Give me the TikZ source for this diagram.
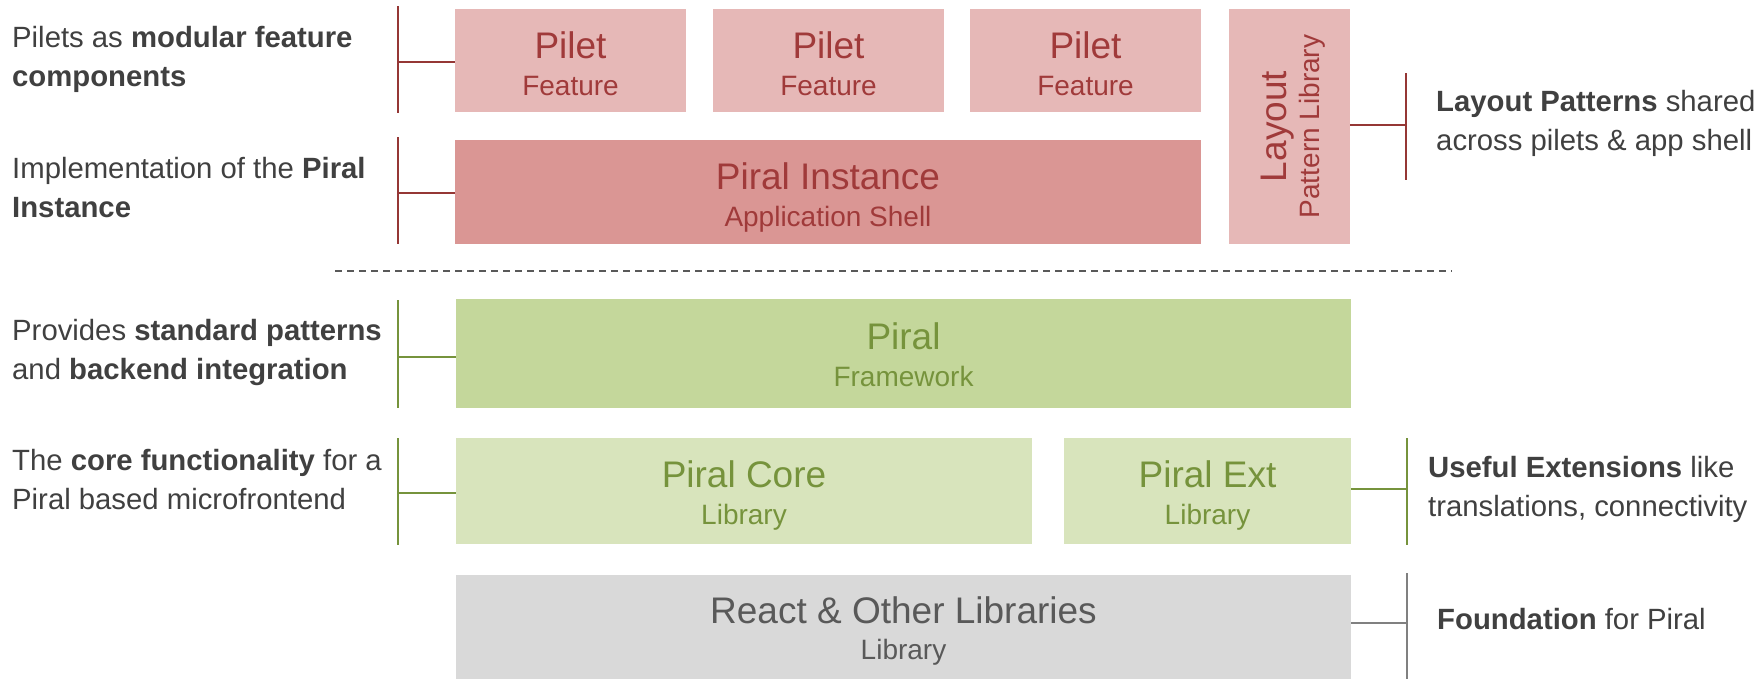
\documentclass[tikz,border=0pt]{standalone}
\usepackage{fontspec}
\setmainfont{Liberation Sans}
\usetikzlibrary{calc}
\definecolor{redline}{HTML}{953735}
\definecolor{redtext}{HTML}{A03A3A}
\definecolor{pilfill}{HTML}{E6B8B7}
\definecolor{instfill}{HTML}{DA9694}
\definecolor{grnline}{HTML}{76933C}
\definecolor{grntext}{HTML}{76933C}
\definecolor{fwfill}{HTML}{C4D79B}
\definecolor{libfill}{HTML}{D8E4BC}
\definecolor{gryfill}{HTML}{D9D9D9}
\definecolor{grytext}{HTML}{595959}
\definecolor{gryline}{HTML}{808080}
\definecolor{sidetext}{HTML}{404040}
\tikzset{
  box/.style={rectangle, draw=none, inner sep=0pt, outer sep=0pt},
  pilbox/.style={box, fill=pilfill},
  instbox/.style={box, fill=instfill},
  fwbox/.style={box, fill=fwfill},
  libbox/.style={box, fill=libfill},
  grybox/.style={box, fill=gryfill},
  ttl/.style={inner sep=0pt, anchor=base, font=\fontsize{37}{44}\selectfont},
  subttl/.style={inner sep=0pt, anchor=base, font=\fontsize{28}{34}\selectfont},
  side/.style={inner sep=0pt, anchor=base west, align=left, text=sidetext, font=\fontsize{29.3}{39}\selectfont},
  rline/.style={draw=redline, line width=2.2pt},
  gline/.style={draw=grnline, line width=2.2pt},
  kline/.style={draw=gryline, line width=2.2pt},
  sepline/.style={draw=grytext, line width=1.4pt, dash pattern=on 7pt off 5pt}
}
\begin{document}
\begin{tikzpicture}[x=1pt,y=-1pt]
\useasboundingbox (0,0) rectangle (1760,678);
\begin{scope}
\clip (0,0) rectangle (1760,678);
% ---- boxes ----
\node[pilbox, minimum width=231pt, minimum height=103pt] (p1) at (570.5,60.5) {};
\node[pilbox, minimum width=231pt, minimum height=103pt] (p2) at (828.5,60.5) {};
\node[pilbox, minimum width=231pt, minimum height=103pt] (p3) at (1085.5,60.5) {};
\node[pilbox, minimum width=121pt, minimum height=235pt] (lay) at (1289.5,126.5) {};
\node[instbox, minimum width=746pt, minimum height=104pt] (inst) at (828,192) {};
\node[fwbox, minimum width=895pt, minimum height=109pt] (fw) at (903.5,353.5) {};
\node[libbox, minimum width=576pt, minimum height=106pt] (core) at (744,491) {};
\node[libbox, minimum width=287pt, minimum height=106pt] (ext) at (1207.5,491) {};
\node[grybox, minimum width=895pt, minimum height=106pt] (react) at (903.5,628) {};
\end{scope}
% ---- titles ----
\node[ttl, text=redtext] (p1t) at (570.5,58) {Pilet};
\node[subttl, text=redtext] (p1s) at (570.5,95) {Feature};
\node[ttl, text=redtext] (p2t) at (828.5,58) {Pilet};
\node[subttl, text=redtext] (p2s) at (828.5,95) {Feature};
\node[ttl, text=redtext] (p3t) at (1085.5,58) {Pilet};
\node[subttl, text=redtext] (p3s) at (1085.5,95) {Feature};
\node[ttl, text=redtext, rotate=90] (layt) at (1286,126.5) {Layout};
\node[subttl, text=redtext, rotate=90] (lays) at (1319,126.5) {Pattern Library};
\node[ttl, text=redtext] (instt) at (828,189) {Piral Instance};
\node[subttl, text=redtext] (insts) at (828,226) {Application Shell};
\node[ttl, text=grntext] (fwt) at (903.5,349) {Piral};
\node[subttl, text=grntext] (fws) at (903.5,386) {Framework};
\node[ttl, text=grntext] (coret) at (744,487) {Piral Core};
\node[subttl, text=grntext] (cores) at (744,524) {Library};
\node[ttl, text=grntext] (extt) at (1207.5,487) {Piral Ext};
\node[subttl, text=grntext] (exts) at (1207.5,524) {Library};
\node[ttl, text=grytext] (reactt) at (903.5,623) {React \& Other Libraries};
\node[subttl, text=grytext] (reacts) at (903.5,659) {Library};
% ---- separator ----
\coordinate (sepa) at (335,271);
\coordinate (sepb) at (1452,271);
\draw[sepline] (sepa) -- (sepb);
% ---- left brackets ----
\coordinate (l1a) at (398,6);   \coordinate (l1b) at (398,113); \coordinate (l1m) at (398,62);
\coordinate (l2a) at (398,137); \coordinate (l2b) at (398,244); \coordinate (l2m) at (398,193);
\coordinate (l3a) at (398,300); \coordinate (l3b) at (398,408); \coordinate (l3m) at (398,357);
\coordinate (l4a) at (398,438); \coordinate (l4b) at (398,545); \coordinate (l4m) at (398,493);
\draw[rline] (l1a) -- (l1b);
\draw[rline] (l1m) -- (l1m -| p1.west);
\draw[rline] (l2a) -- (l2b);
\draw[rline] (l2m) -- (l2m -| inst.west);
\draw[gline] (l3a) -- (l3b);
\draw[gline] (l3m) -- (l3m -| fw.west);
\draw[gline] (l4a) -- (l4b);
\draw[gline] (l4m) -- (l4m -| core.west);
% ---- right brackets ----
\coordinate (r1a) at (1406,73);  \coordinate (r1b) at (1406,180); \coordinate (r1m) at (1406,125);
\coordinate (r2a) at (1407,438); \coordinate (r2b) at (1407,545); \coordinate (r2m) at (1407,489);
\coordinate (r3a) at (1407,573); \coordinate (r3b) at (1407,680); \coordinate (r3m) at (1407,623);
\draw[rline] (r1a) -- (r1b);
\draw[rline] (r1m -| lay.east) -- (r1m);
\draw[gline] (r2a) -- (r2b);
\draw[gline] (r2m -| ext.east) -- (r2m);
\draw[kline] (r3a) -- (r3b);
\draw[kline] (r3m -| react.east) -- (r3m);
% ---- side texts (anchor = baseline of last line) ----
\node[side] (d1) at (12,86) {Pilets as \textbf{modular feature}\\\textbf{components}};
\node[side] (d2) at (12,217) {Implementation of the \textbf{Piral}\\\textbf{Instance}};
\node[side] (d3) at (12,379) {Provides \textbf{standard patterns}\\and \textbf{backend integration}};
\node[side] (d4) at (12,509) {The \textbf{core functionality} for a\\Piral based microfrontend};
\node[side] (d5) at (1436,150) {\textbf{Layout Patterns} shared\\across pilets \& app shell};
\node[side] (d6) at (1428,516) {\textbf{Useful Extensions} like\\translations, connectivity};
\node[side] (d7) at (1437,629) {\textbf{Foundation} for Piral};
\end{tikzpicture}
\end{document}
